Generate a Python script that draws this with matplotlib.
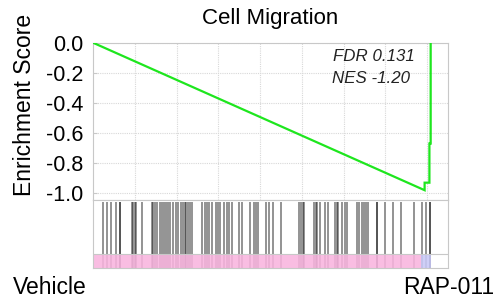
import matplotlib
matplotlib.use("Agg")
import matplotlib.pyplot as plt

plt.rcParams["font.family"] = ["Liberation Sans", "DejaVu Sans"]

TITLE = "Cell Migration"
N_GENES = 17000

# running enrichment score (rank, score)
es_rank = [0, 15880, 15880, 16110, 16110, 16170, 16170]
es_score = [0.0, -0.98, -0.93, -0.93, -0.67, -0.67, 0.0]

# ranks of gene-set members (hit bars)
hits = [479, 694, 862, 1101, 1293, 1293, 1868, 1940, 2011, 2059, 2332,
        2826, 2897, 2969, 3089, 3209, 3304, 3400, 3496, 3592, 3687, 3831,
        3975, 4094, 4214, 4310, 4406, 4478, 4549, 4645, 4741, 5206, 5363,
        5445, 5555, 5684, 5890, 6010, 6082, 6273, 6403, 6513, 6642, 7016,
        7112, 7519, 7710, 7806, 7916, 8285, 8405, 8620, 9003, 9889, 9961,
        10033, 10105, 10560, 10656, 10751, 10847, 11110, 11268, 11589,
        11670, 11733, 11910, 12044, 12150, 12628, 12739, 12868, 12954,
        13074, 13170, 13577, 13577, 13984, 14343, 14750, 15372, 15732,
        15933, 16139, 16139]

# colour bar segments: (start, end, colour)
seg_start = [0, 70, 15730, 16180]
seg_end = [70, 15730, 16180, N_GENES]
seg_color = ["#f2546e", "#f9b4df", "#c9c9f7", "#ffffff"]

fdr_text = "FDR 0.131"
nes_text = "NES -1.20"
yticks = [0.0, -0.2, -0.4, -0.6, -0.8, -1.0]

GREEN = "#1ee61e"
BORDER = "#c8c8c8"
GRID = "#d8d8d8"

fig = plt.figure(figsize=(4.98, 3.05), dpi=100)
ax = fig.add_axes([0.1867, 0.3443, 0.7129, 0.5157])
axh = fig.add_axes([0.1867, 0.1213, 0.7129, 0.2230])

# enrichment score panel
ax.plot(es_rank, es_score, color=GREEN, lw=1.6, solid_joinstyle="miter", zorder=3)
ax.set_xlim(0, N_GENES)
ax.set_ylim(-1.045, 0)
ax.set_yticks(yticks)
ax.set_yticklabels(["%.1f" % v for v in yticks], fontsize=15.5)
ax.set_xticks(range(2000, N_GENES, 2000))
ax.tick_params(axis="x", length=0, labelbottom=False)
ax.tick_params(axis="y", length=3, color=BORDER, pad=7, direction="in")
ax.grid(True, color=GRID, ls=(0, (1, 1)), lw=0.8)
for s in ax.spines.values():
    s.set_color(BORDER)
ax.text(0.905, 0.91, fdr_text, transform=ax.transAxes, ha="right", va="center",
        fontsize=12.2, style="italic", color="#222222")
ax.text(0.893, 0.77, nes_text, transform=ax.transAxes, ha="right", va="center",
        fontsize=12.2, style="italic", color="#222222")

# hit panel
axh.set_xlim(0, N_GENES)
axh.set_ylim(0, 1)
axh.vlines(hits, 0, 0.97, color="black", alpha=0.48, lw=1.25, zorder=1)
for a, b, c in zip(seg_start, seg_end, seg_color):
    axh.axvspan(a, b, ymin=0, ymax=0.2, color=c, alpha=0.88, lw=0, zorder=2)
axh.axhline(0.2, color=BORDER, lw=0.8, zorder=3)
axh.set_xticks([])
axh.set_yticks([])
for s in axh.spines.values():
    s.set_color(BORDER)

fig.text(0.5432, 0.938, TITLE, ha="center", va="center", fontsize=16)
fig.text(0.05, 0.655, "Enrichment Score", rotation=90, ha="center", va="center",
         fontsize=16.5)
fig.text(0.026, 0.059, "Vehicle", ha="left", va="center", fontsize=16.5)
fig.text(0.992, 0.059, "RAP-011", ha="right", va="center", fontsize=16.5)

fig.savefig("out.png", dpi=100)
